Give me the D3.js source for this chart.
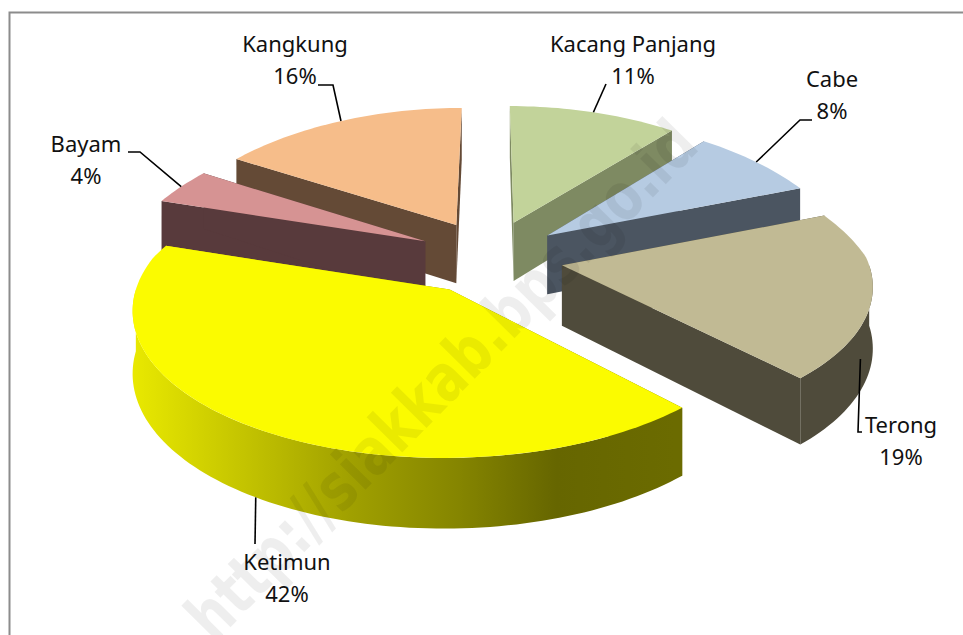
<!DOCTYPE html>
<html>
<head>
<meta charset="utf-8">
<script src="https://d3js.org/d3.v7.min.js"></script>
<style>
  html, body { margin: 0; padding: 0; background: #fff; }
  svg { display: block; }
  text { font-family: "Noto Sans", sans-serif; fill: #111; }
</style>
</head>
<body>
<div id="chart"></div>
<script>
var categories = ['Kacang Panjang', 'Cabe', 'Terong', 'Ketimun', 'Bayam', 'Kangkung'];
var values = [11, 8, 19, 42, 4, 16];
var topColors = ['#c2d39a', '#b6cbe2', '#c1ba94', '#fbfb00', '#d69393', '#f6bd8a'];
var sideColors = ['#7e8a62', '#4b5561', '#4f4b3b', 'url(#ketimunSide)', '#583a3c', '#644a36'];

drawPie3d('#chart');

function drawPie3d(element) {
  var WIDTH = 963;
  var HEIGHT = 635;
  var EXPLODE_U = 0.24;   // slices are pulled out of the middle
  var EXPLODE_V = 0.27;
  var PERSPECTIVE_Y = 0.123;
  var PERSPECTIVE_X_BACK = 0.2;
  var DEPTH = 60;

  // labels and leader lines, placed by hand like in the original
  var LABELS = {
    'Kacang Panjang': { x: 633, y: 52, elbow: [[606, 84]] },
    'Cabe': { x: 832, y: 87, elbow: [[800, 120], [812, 120]] },
    'Terong': { x: 901, y: 433, elbow: [[858, 432], [862, 432]], angle: 2.0, z: 30 },
    'Ketimun': { x: 287, y: 570, elbow: [[255, 544]], angle: 3.71, z: DEPTH },
    'Bayam': { x: 86, y: 152, elbow: [[140, 152], [128, 152]] },
    'Kangkung': { x: 295, y: 52, elbow: [[333, 85], [318, 85]] }
  };

  var x = d3.scaleLinear().domain([-1, 1]).range([490 - 305, 490 + 305]);
  var y = d3.scaleLinear().domain([-1, 1]).range([257 - 138.9, 257 + 138.9]);

  var svg = d3.select(element)
    .append('svg')
      .attr('width', WIDTH)
      .attr('height', HEIGHT);

  // frame of the chart
  svg.append('path')
    .attr('d', 'M9.5,' + HEIGHT + 'V12.5H' + WIDTH)
    .attr('fill', 'none')
    .attr('stroke', '#8c8c8c')
    .attr('stroke-width', 2);

  var gradient = svg.append('defs').append('linearGradient')
    .attr('id', 'ketimunSide')
    .attr('gradientUnits', 'userSpaceOnUse')
    .attr('x1', 135).attr('x2', 675)
    .attr('y1', 0).attr('y2', 0);
  [[0, '#e8e800'], [0.2, '#c4c400'], [0.4, '#a0a000'], [0.6, '#858500'], [0.78, '#666600'], [1, '#6b6b00']]
    .forEach(function (s) {
      gradient.append('stop').attr('offset', s[0]).attr('stop-color', s[1]);
    });

  var pie = d3.pie().sort(null).value(function (d) { return d; });
  var slices = pie(values).map(function (d, i) {
    var mid = (d.startAngle + d.endAngle) / 2;
    return {
      name: categories[i],
      value: values[i],
      top: topColors[i],
      side: sideColors[i],
      start: d.startAngle,
      end: d.endAngle,
      mid: mid,
      du: Math.sin(mid) * EXPLODE_U,
      dv: -Math.cos(mid) * EXPLODE_V
    };
  });

  // project a point of the slice plane on the screen, z is down
  function project(slice, r, angle, z) {
    var u = slice.du + r * Math.sin(angle);
    var v = slice.dv - r * Math.cos(angle);
    var sy = 1 / (1 - PERSPECTIVE_Y * v);
    // the back of the pie shrinks more in width than the front grows
    var sx = v < 0 ? 1 / (1 - PERSPECTIVE_X_BACK * v) : sy;
    return [x(u * sx), y(v * sy) + (z || 0) * sy];
  }

  function arcPoints(slice, from, to, z) {
    var n = Math.max(2, Math.ceil(Math.abs(to - from) * 40));
    return d3.range(n + 1).map(function (i) {
      return project(slice, 1, from + (to - from) * i / n, z);
    });
  }

  var line = d3.line().curve(d3.curveLinearClosed);

  // back slices first so the front ones paint over them
  var ordered = slices.slice().sort(function (a, b) { return a.dv - b.dv; });

  ordered.forEach(function (slice) {
    var g = svg.append('g').attr('class', 'slice');
    var apex = project(slice, 0, 0, 0);
    var apexLow = project(slice, 0, 0, DEPTH);

    // the two cut faces
    [slice.start, slice.end].forEach(function (angle) {
      g.append('path')
        .attr('d', line([apex, project(slice, 1, angle, 0), project(slice, 1, angle, DEPTH), apexLow]))
        .attr('fill', slice.side);
    });

    // outer wall, only what looks to the front
    var from = Math.max(slice.start, Math.PI / 2);
    var to = Math.min(slice.end, Math.PI * 1.5);
    if (from < to) {
      g.append('path')
        .attr('d', line(arcPoints(slice, from, to, 0).concat(arcPoints(slice, to, from, DEPTH))))
        .attr('fill', slice.side);
    }

    g.append('path')
      .attr('d', line([apex].concat(arcPoints(slice, slice.start, slice.end, 0))))
      .attr('fill', slice.top);
  });

  // leader lines
  slices.forEach(function (slice) {
    var lab = LABELS[slice.name];
    var angle = lab.angle === undefined ? slice.mid : lab.angle;
    var pts = [project(slice, 1, angle, lab.z || 0)].concat(lab.elbow);
    svg.append('path')
      .attr('d', d3.line()(pts))
      .attr('fill', 'none')
      .attr('stroke', '#000')
      .attr('stroke-width', 1.6);

    var t = svg.append('text')
      .attr('text-anchor', 'middle')
      .attr('font-size', 22);
    t.append('tspan').attr('x', lab.x).attr('y', lab.y).text(slice.name);
    t.append('tspan').attr('x', lab.x).attr('y', lab.y + 32).text(slice.value + '%');
  });

  // watermark over the whole picture
  svg.append('text')
    .attr('transform', 'translate(214,644) rotate(-45.5)')
    .attr('font-size', 66)
    .attr('font-weight', 'bold')
    .style('font-family', '"DejaVu Sans", sans-serif')
    .style('fill', 'rgba(0,0,0,0.065)')
    .attr('textLength', 695)
    .attr('lengthAdjust', 'spacingAndGlyphs')
    .text('http://siakkab.bps.go.id');
}
</script>
</body>
</html>
